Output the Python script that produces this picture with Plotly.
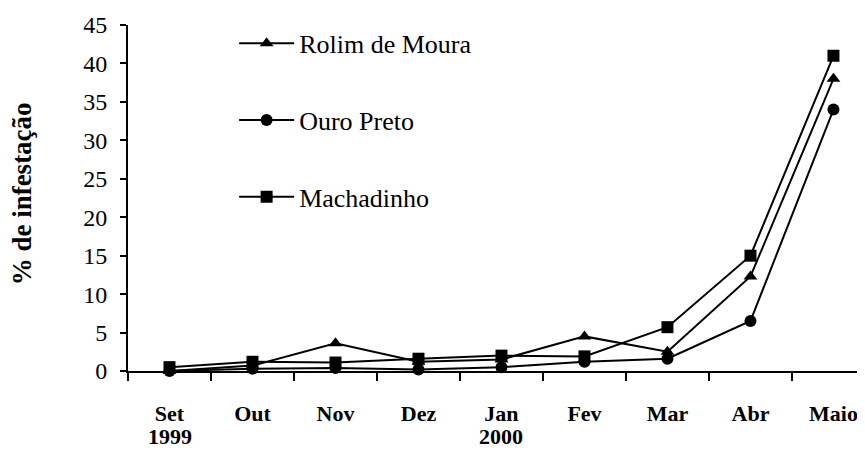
import plotly.graph_objects as go

meses = ['Set', 'Out', 'Nov', 'Dez', 'Jan', 'Fev', 'Mar', 'Abr', 'Maio']
rolim_de_moura = [0.0, 0.7, 3.6, 1.2, 1.5, 4.5, 2.5, 12.3, 38.0]
ouro_preto = [0.0, 0.3, 0.4, 0.2, 0.5, 1.2, 1.6, 6.5, 34.0]
machadinho = [0.5, 1.2, 1.1, 1.6, 2.0, 1.9, 5.7, 15.0, 41.0]
anos = [('1999', 'Set'), ('2000', 'Jan')]
y_ticks = list(range(0, 50, 5))

FONT = 'Liberation Serif, Times New Roman, serif'

series = [
    ('Rolim de Moura', rolim_de_moura, 'triangle-up'),
    ('Ouro Preto', ouro_preto, 'circle'),
    ('Machadinho', machadinho, 'square'),
]

fig = go.Figure()
for i, (name, vals, symbol) in enumerate(series):
    fig.add_trace(go.Scatter(
        x=meses,
        y=vals,
        name=name,
        legendgroup=f'g{i}',
        mode='lines+markers',
        line=dict(color='black', width=2),
        marker=dict(symbol=symbol, size=12, color='black'),
        cliponaxis=False,
    ))

# year labels under the month ticks
for text, mes in anos:
    fig.add_annotation(
        x=mes, xref='x', y=-0.19, yref='paper',
        text=f'<b>{text}</b>', showarrow=False,
        font=dict(family=FONT, size=22, color='black'),
        yanchor='middle',
    )

fig.add_annotation(
    x=-0.144, xref='paper', y=0.513, yref='paper',
    text='<b>% de infestação</b>', showarrow=False, textangle=-90,
    font=dict(family=FONT, size=27, color='black'),
    xanchor='center', yanchor='middle',
)

# page body has an 8px margin, so the figure is shrunk by 8px
fig.update_layout(
    width=857,
    height=462,
    margin=dict(l=120, r=0, t=17, b=99),
    plot_bgcolor='white',
    paper_bgcolor='white',
    font=dict(family=FONT, color='black'),
    showlegend=True,
    legend=dict(
        x=0.144, y=1.015, xanchor='left', yanchor='top',
        font=dict(family=FONT, size=26, color='black'),
        bgcolor='rgba(0,0,0,0)',
        tracegroupgap=40,
        itemwidth=55,
    ),
    xaxis=dict(
        type='category',
        range=[-0.5, 8.38],
        showline=True, linecolor='black', linewidth=2,
        ticks='outside', tickson='boundaries', ticklen=8,
        tickcolor='black', tickwidth=2,
        showgrid=False, zeroline=False,
        tickfont=dict(family=FONT, size=22, color='black'),
        ticklabelstandoff=22,
        tickprefix='<b>', ticksuffix='</b>',
    ),
    yaxis=dict(
        range=[0, 45],
        tickvals=y_ticks,
        showline=True, linecolor='black', linewidth=2,
        ticks='outside', ticklen=6, tickcolor='black', tickwidth=2,
        showgrid=False, zeroline=False,
        tickfont=dict(family=FONT, size=24, color='black'),
        ticklabelstandoff=8,
        tickprefix='<b>', ticksuffix='</b>',
    ),
)

fig.write_html('out.html')
